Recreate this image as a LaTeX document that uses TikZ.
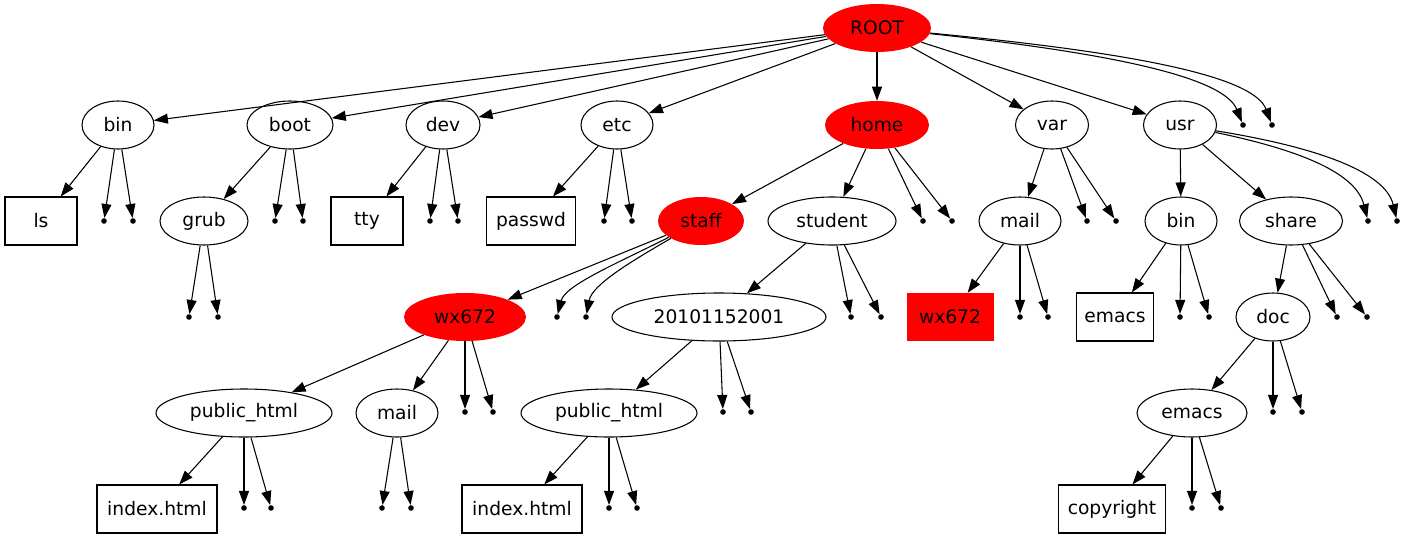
\documentclass[tikz,border=0pt]{standalone}
\usepackage{fontspec}
\setmainfont{DejaVu Sans}
\usetikzlibrary{shapes.geometric,arrows.meta}
\begin{document}
\begin{tikzpicture}[x=0.75pt,y=-0.75pt,
  every node/.style={font=\fontsize{14pt}{16pt}\selectfont, inner sep=0pt},
  ell/.style={ellipse, draw, line width=0.8pt, minimum height=36pt, minimum width=#1*0.75pt},
  redell/.style={ellipse, fill=red, minimum height=36pt, minimum width=#1*0.75pt},
  box/.style={rectangle, draw, line width=0.8pt, minimum height=36pt, minimum width=#1*0.75pt},
  redbox/.style={rectangle, fill=red, minimum height=36pt, minimum width=#1*0.75pt},
  pt/.style={circle, fill=black, minimum size=4.2pt},
  edge/.style={draw, line width=0.8pt, -{Triangle[length=10.5pt,width=7.5pt]}}]
\useasboundingbox (0,0) rectangle (1405,539);
% level 0
\node[redell=108] (root) at (877,28) {ROOT};
% level 1
\node[ell=72] (bin) at (118,125) {bin};
\node[ell=86] (boot) at (290,125) {boot};
\node[ell=74] (dev) at (443,125) {dev};
\node[ell=72] (etc) at (617,125) {etc};
\node[redell=104] (home) at (877,125) {home};
\node[ell=73] (var) at (1052,125) {var};
\node[ell=73] (usr) at (1180,125) {usr};
\node[pt] (r1) at (1243,125) {};
\node[pt] (r2) at (1272,125) {};
% level 2
\node[box=72] (ls) at (41,221) {ls};
\node[pt] (bin1) at (104,221) {};
\node[pt] (bin2) at (133,221) {};
\node[ell=88] (grub) at (204,221) {grub};
\node[pt] (boot1) at (275,221) {};
\node[pt] (boot2) at (303,221) {};
\node[box=72] (tty) at (367,221) {tty};
\node[pt] (dev1) at (430,221) {};
\node[pt] (dev2) at (458,221) {};
\node[box=89] (passwd) at (531,221) {passwd};
\node[pt] (etc1) at (604,221) {};
\node[pt] (etc2) at (632,221) {};
\node[redell=86] (staff) at (701,221) {staff};
\node[ell=128] (student) at (832,221) {student};
\node[pt] (home1) at (923,221) {};
\node[pt] (home2) at (952,221) {};
\node[ell=82] (vmail) at (1020,221) {mail};
\node[pt] (var1) at (1087,221) {};
\node[pt] (var2) at (1116,221) {};
\node[ell=72] (ubin) at (1181,221) {bin};
\node[ell=103] (share) at (1291,221) {share};
\node[pt] (usr1) at (1368,221) {};
\node[pt] (usr2) at (1397,221) {};
% level 3
\node[pt] (grub1) at (189,317) {};
\node[pt] (grub2) at (218,317) {};
\node[redell=122] (wx) at (465,317) {wx672};
\node[pt] (staff1) at (557,317) {};
\node[pt] (staff2) at (586,317) {};
\node[ell=214] (sid) at (719,317) {20101152001};
\node[pt] (stu1) at (851,317) {};
\node[pt] (stu2) at (881,317) {};
\node[redbox=87] (wxbox) at (950,317) {wx672};
\node[pt] (vmail1) at (1020,317) {};
\node[pt] (vmail2) at (1048,317) {};
\node[box=77] (emacsb) at (1115,317) {emacs};
\node[pt] (ubin1) at (1180,317) {};
\node[pt] (ubin2) at (1209,317) {};
\node[ell=74] (doc) at (1273,317) {doc};
\node[pt] (share1) at (1337,317) {};
\node[pt] (share2) at (1367,317) {};
% level 4
\node[ell=176] (pub1) at (244,413) {public\_html};
\node[ell=82] (smail) at (397,413) {mail};
\node[pt] (wx1) at (465,412) {};
\node[pt] (wx2) at (493,412) {};
\node[ell=176] (pub2) at (609,413) {public\_html};
\node[pt] (sid1) at (723,412) {};
\node[pt] (sid2) at (751,412) {};
\node[ell=110] (emacs) at (1192,413) {emacs};
\node[pt] (doc1) at (1273,412) {};
\node[pt] (doc2) at (1302,412) {};
% level 5
\node[box=120] (idx1) at (157,509) {index.html};
\node[pt] (pub11) at (244,508) {};
\node[pt] (pub12) at (271,508) {};
\node[pt] (smail1) at (382,508) {};
\node[pt] (smail2) at (411,508) {};
\node[box=120] (idx2) at (522,509) {index.html};
\node[pt] (pub21) at (609,508) {};
\node[pt] (pub22) at (637,508) {};
\node[box=107] (copyright) at (1112,509) {copyright};
\node[pt] (emacs1) at (1192,508) {};
\node[pt] (emacs2) at (1221,508) {};
% edges
\path[edge] (root) -- (bin);
\path[edge] (root) -- (boot);
\path[edge] (root) -- (dev);
\path[edge] (root) -- (etc);
\path[edge] (root) -- (home);
\path[edge] (root) -- (var);
\path[edge] (root) -- (usr);
\path[edge] (root) .. controls (1130,55) and (1225,80) .. (r1);
\path[edge] (root) .. controls (1160,55) and (1255,80) .. (r2);
\path[edge] (bin) -- (ls);
\path[edge] (bin) -- (bin1);
\path[edge] (bin) -- (bin2);
\path[edge] (boot) -- (grub);
\path[edge] (boot) -- (boot1);
\path[edge] (boot) -- (boot2);
\path[edge] (dev) -- (tty);
\path[edge] (dev) -- (dev1);
\path[edge] (dev) -- (dev2);
\path[edge] (etc) -- (passwd);
\path[edge] (etc) -- (etc1);
\path[edge] (etc) -- (etc2);
\path[edge] (home) -- (staff);
\path[edge] (home) -- (student);
\path[edge] (home) -- (home1);
\path[edge] (home) -- (home2);
\path[edge] (var) -- (vmail);
\path[edge] (var) -- (var1);
\path[edge] (var) -- (var2);
\path[edge] (usr) -- (ubin);
\path[edge] (usr) -- (share);
\path[edge] (usr) .. controls (1290,148) and (1355,170) .. (usr1);
\path[edge] (usr) .. controls (1310,146) and (1385,170) .. (usr2);
\path[edge] (grub) -- (grub1);
\path[edge] (grub) -- (grub2);
\path[edge] (staff) -- (wx);
\path[edge] (staff) .. controls (620,262) and (565,285) .. (staff1);
\path[edge] (staff) .. controls (630,262) and (592,285) .. (staff2);
\path[edge] (student) -- (sid);
\path[edge] (student) -- (stu1);
\path[edge] (student) -- (stu2);
\path[edge] (vmail) -- (wxbox);
\path[edge] (vmail) -- (vmail1);
\path[edge] (vmail) -- (vmail2);
\path[edge] (ubin) -- (emacsb);
\path[edge] (ubin) -- (ubin1);
\path[edge] (ubin) -- (ubin2);
\path[edge] (share) -- (doc);
\path[edge] (share) -- (share1);
\path[edge] (share) -- (share2);
\path[edge] (wx) -- (pub1);
\path[edge] (wx) -- (smail);
\path[edge] (wx) -- (wx1);
\path[edge] (wx) -- (wx2);
\path[edge] (sid) -- (pub2);
\path[edge] (sid) -- (sid1);
\path[edge] (sid) -- (sid2);
\path[edge] (doc) -- (emacs);
\path[edge] (doc) -- (doc1);
\path[edge] (doc) -- (doc2);
\path[edge] (pub1) -- (idx1);
\path[edge] (pub1) -- (pub11);
\path[edge] (pub1) -- (pub12);
\path[edge] (smail) -- (smail1);
\path[edge] (smail) -- (smail2);
\path[edge] (pub2) -- (idx2);
\path[edge] (pub2) -- (pub21);
\path[edge] (pub2) -- (pub22);
\path[edge] (emacs) -- (copyright);
\path[edge] (emacs) -- (emacs1);
\path[edge] (emacs) -- (emacs2);
\end{tikzpicture}
\end{document}
